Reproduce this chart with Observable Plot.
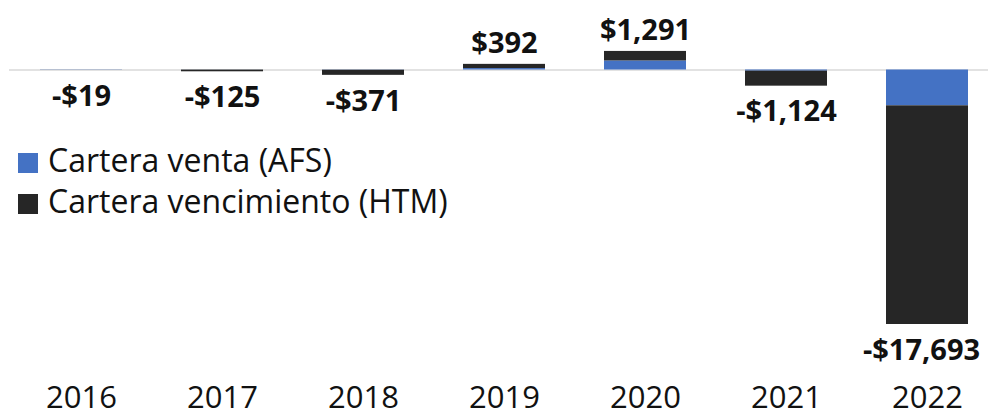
<!DOCTYPE html>
<html><head><meta charset="utf-8">
<script src="https://cdn.jsdelivr.net/npm/d3@7"></script>
<script src="https://cdn.jsdelivr.net/npm/@observablehq/plot@0.6"></script>
<style>
body{margin:0;background:#fff;font-family:"Open Sans",sans-serif;}
#wrap{position:relative;width:988px;height:416px;}
#legend{position:absolute;left:18px;top:139px;font-size:32px;color:#111;line-height:41px;}
#legend .sw{display:inline-block;width:20px;height:20px;margin-right:10px;vertical-align:-1px;}
</style></head>
<body><div id="wrap"><div id="legend"></div></div>
<script>
const years = ["2016","2017","2018","2019","2020","2021","2022"];
const afs = [-15, -5, -15, 100, 630, -80, -2490];
const htm = [-4, -120, -356, 292, 661, -1044, -15203];
const totals = [-19, -125, -371, 392, 1291, -1124, -17693];
const seriesNames = ["Cartera venta (AFS)", "Cartera vencimiento (HTM)"];
const colors = ["#4472C4", "#262626"];

const rows = [];
years.forEach((y, i) => {
  rows.push({year: y, serie: seriesNames[0], value: afs[i]});
  rows.push({year: y, serie: seriesNames[1], value: htm[i]});
});
const tot = years.map((y, i) => ({year: y, value: totals[i]}));
const fmt = v => (v < 0 ? "-" : "") + "$" + d3.format(",")(Math.abs(v));
const last = years[years.length - 1];

const chart = Plot.plot({
  width: 988, height: 416,
  marginLeft: 9, marginRight: 0, marginTop: 0, marginBottom: 36,
  style: {fontFamily: "'Open Sans', sans-serif", background: "#fff", color: "#111"},
  x: {domain: years, range: [39, 968], paddingInner: 0.42, paddingOuter: 0, label: null},
  y: {domain: [-17693, 0], range: [324, 69.5], axis: null},
  color: {domain: seriesNames, range: colors},
  marks: [
    Plot.ruleY([0], {stroke: "#d9d9d9", strokeWidth: 1.5}),
    Plot.barY(rows, {x: "year", y: "value", fill: "serie"}),
    Plot.text(tot.filter(d => d.value >= 0), {x: "year", y: "value", text: d => fmt(d.value), dy: -21, fontSize: 29, fontWeight: 700, fill: "#111"}),
    Plot.text(tot.filter(d => d.value < 0 && d.year !== last), {x: "year", y: "value", text: d => fmt(d.value), dy: 26, fontSize: 29, fontWeight: 700, fill: "#111"}),
    Plot.text(tot.filter(d => d.year === last), {x: "year", y: "value", text: d => fmt(d.value), dy: 26, dx: -6, fontSize: 29, fontWeight: 700, fill: "#111"}),
    Plot.axisX({anchor: "bottom", tickSize: 0, tickPadding: 5, fontSize: 31, fill: "#111", label: null})
  ]
});
document.getElementById("wrap").prepend(chart);
const lg = document.getElementById("legend");
seriesNames.forEach((n, i) => {
  const d = document.createElement("div");
  d.innerHTML = `<span class="sw" style="background:${colors[i]}"></span>${n}`;
  lg.appendChild(d);
});
</script></body></html>
